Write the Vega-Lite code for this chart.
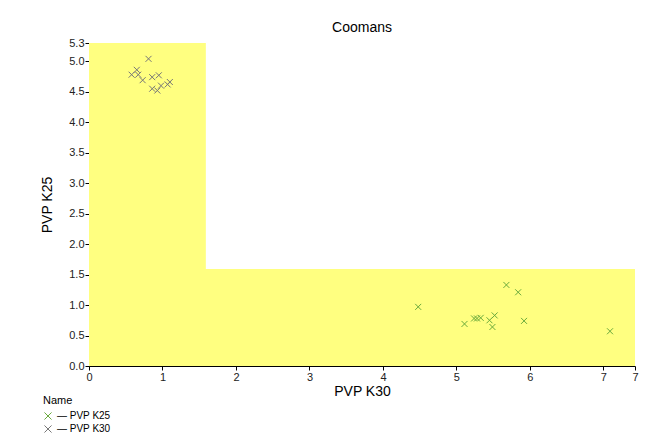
{
  "$schema": "https://vega.github.io/schema/vega-lite/v6.json",
  "width": 546,
  "height": 323,
  "autosize": {"type": "none"},
  "padding": {"left": 89, "top": 43, "right": 23, "bottom": 77},
  "background": "white",
  "title": {"text": "Coomans", "fontSize": 14, "font": "Liberation Sans", "fontWeight": "normal", "color": "black", "offset": 2, "anchor": "middle"},
  "config": {
    "view": {"stroke": null},
    "font": "Liberation Sans",
    "axis": {"grid": false, "domainColor": "black", "tickColor": "black", "labelColor": "#222", "labelFont": "Liberation Sans", "labelFontSize": 11, "titleFont": "Liberation Sans", "titleFontSize": 14, "titleFontWeight": "normal", "titleColor": "black", "tickSize": 4, "labelOverlap": false, "labelFlush": false}
  },
  "datasets": {
    "regions": [
      {"x": 0, "x2": 1.59, "y": 0, "y2": 5.3},
      {"x": 0, "x2": 7.43, "y": 0, "y2": 1.59}
    ],
    "points": [
      {"series": "PVP K25", "x": 4.48, "y": 0.97},
      {"series": "PVP K25", "x": 5.11, "y": 0.69},
      {"series": "PVP K25", "x": 5.24, "y": 0.78},
      {"series": "PVP K25", "x": 5.28, "y": 0.78},
      {"series": "PVP K25", "x": 5.33, "y": 0.79},
      {"series": "PVP K25", "x": 5.45, "y": 0.75},
      {"series": "PVP K25", "x": 5.52, "y": 0.83},
      {"series": "PVP K25", "x": 5.49, "y": 0.64},
      {"series": "PVP K25", "x": 5.68, "y": 1.33},
      {"series": "PVP K25", "x": 5.84, "y": 1.21},
      {"series": "PVP K25", "x": 5.92, "y": 0.74},
      {"series": "PVP K25", "x": 7.09, "y": 0.57},
      {"series": "PVP K30", "x": 0.81, "y": 5.04},
      {"series": "PVP K30", "x": 0.65, "y": 4.86},
      {"series": "PVP K30", "x": 0.58, "y": 4.78},
      {"series": "PVP K30", "x": 0.67, "y": 4.78},
      {"series": "PVP K30", "x": 0.73, "y": 4.69},
      {"series": "PVP K30", "x": 0.86, "y": 4.74},
      {"series": "PVP K30", "x": 0.95, "y": 4.77},
      {"series": "PVP K30", "x": 0.86, "y": 4.55},
      {"series": "PVP K30", "x": 0.93, "y": 4.52},
      {"series": "PVP K30", "x": 0.98, "y": 4.60},
      {"series": "PVP K30", "x": 1.10, "y": 4.66},
      {"series": "PVP K30", "x": 1.07, "y": 4.62}
    ]
  },
  "encoding": {
    "x": {"field": "x", "type": "quantitative", "scale": {"domain": [0, 7.43], "nice": false, "zero": false},
          "axis": {"title": "PVP K30", "values": [0, 1, 2, 3, 4, 5, 6, 7, 7.43], "format": ".0f", "titlePadding": 2, "labelPadding": 1}},
    "y": {"field": "y", "type": "quantitative", "scale": {"domain": [0, 5.3], "nice": false, "zero": false},
          "axis": {"title": "PVP K25", "values": [0, 0.5, 1, 1.5, 2, 2.5, 3, 3.5, 4, 4.5, 5, 5.3], "format": ".1f", "titlePadding": 14, "labelPadding": 1}}
  },
  "layer": [
    {
      "data": {"name": "regions"},
      "mark": {"type": "rect", "color": "#ffff80", "opacity": 1},
      "encoding": {
        "x2": {"field": "x2"},
        "y2": {"field": "y2"}
      }
    },
    {
      "data": {"name": "points"},
      "mark": {"type": "point", "shape": "M-1,-1L1,1M-1,1L1,-1", "filled": false, "size": 36, "strokeWidth": 1, "opacity": 1},
      "encoding": {
        "color": {"field": "series", "type": "nominal",
                  "scale": {"domain": ["PVP K25", "PVP K30"], "range": ["#6aaa3c", "#777777"]},
                  "legend": {"title": "Name", "orient": "none", "legendX": -46, "legendY": 352, "titleFontSize": 11, "titleFontWeight": "normal", "titleFont": "Liberation Sans", "titleColor": "black", "labelFontSize": 10, "labelColor": "black", "labelFont": "Liberation Sans", "symbolSize": 50, "symbolStrokeWidth": 1, "rowPadding": 1, "titlePadding": 5, "labelExpr": "'— ' + datum.label"}}
      }
    }
  ]
}
